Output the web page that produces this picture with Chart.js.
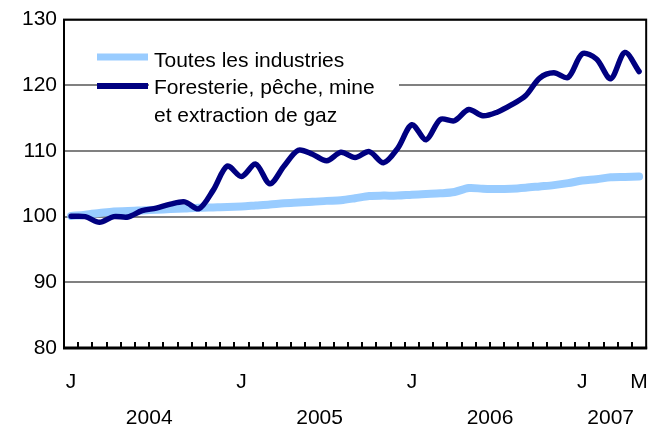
<!DOCTYPE html>
<html>
<head>
    <script src="https://cdn.jsdelivr.net/npm/chart.js@4/dist/chart.umd.min.js"></script>
    <style>
        body { margin: 0; background: #fff; }
    </style>
</head>
<body>
<canvas id="myChart" width="670" height="435"></canvas>
<script>
// Jan 2004 .. May 2007, monthly
var months = ["J","F","M","A","M","J","J","A","S","O","N","D",
              "J","F","M","A","M","J","J","A","S","O","N","D",
              "J","F","M","A","M","J","J","A","S","O","N","D",
              "J","F","M","A","M"];
var tickLabels = {0: "J", 12: "J", 24: "J", 36: "J", 40: "M"};
var years = ["2004", "2005", "2006", "2007"];
var yearStart = [0, 12, 24, 36];
var yearEnd = [11, 23, 35, 40];

var allIndustries = [100.1, 100.3, 100.55, 100.8, 100.85, 100.95, 101.05, 101.15, 101.25, 101.35, 101.4, 101.45,
    101.55, 101.7, 101.85, 102.05, 102.15, 102.25, 102.4, 102.5, 102.8, 103.15, 103.2, 103.2,
    103.35, 103.45, 103.55, 103.75, 104.35, 104.25, 104.2, 104.25, 104.4, 104.6, 104.8, 105.1,
    105.5, 105.7, 106.0, 106.05, 106.1];
var forestry = [100.05, 100.0, 99.15, 100.0, 99.95, 100.9, 101.3, 101.9, 102.25, 101.2, 104.0, 107.7,
    106.1, 108.0, 105.0, 107.7, 110.1, 109.5, 108.5, 109.8, 109.0, 109.9, 108.2, 110.4,
    114.0, 111.7, 114.8, 114.6, 116.3, 115.35, 115.9, 117.0, 118.4, 121.1, 121.9, 121.2,
    124.8, 124.0, 121.0, 125.0, 122.1];

var lightBlue = "#99ccff", navy = "#000080";
var font = "Liberation Sans, Arial, sans-serif";

// border box, tick marks, year labels and the legend
var extras = {
    id: "extras",
    beforeDatasetsDraw: function(chart) {
        var c = chart.ctx, a = chart.chartArea, x = chart.scales.x;
        c.save();
        c.strokeStyle = "#000";
        c.lineWidth = 2;
        c.beginPath();
        for (var i = 1; i < months.length; i++) {
            var px = Math.round(x.getPixelForValue(i - 0.5));
            c.moveTo(px, a.bottom);
            c.lineTo(px, a.bottom - 6);
        }
        c.stroke();
        c.strokeRect(a.left, a.top, a.right - a.left, a.bottom - a.top);
        c.beginPath();
        c.lineWidth = 3;
        c.moveTo(a.left - 1, a.bottom);
        c.lineTo(a.right + 1, a.bottom);
        c.stroke();
        c.fillStyle = "#000";
        c.font = "21px " + font;
        c.textAlign = "center";
        c.textBaseline = "middle";
        for (var j = 0; j < years.length; j++) {
            var cx = x.getPixelForValue((yearStart[j] + yearEnd[j]) / 2);
            c.fillText(years[j], cx, 418);
        }
        c.restore();
    },
    afterDatasetsDraw: function(chart) {
        var c = chart.ctx;
        c.save();
        c.fillStyle = "#fff";
        c.fillRect(149, 46, 250, 82);
        c.lineCap = "butt";
        c.strokeStyle = lightBlue;
        c.lineWidth = 7;
        c.beginPath(); c.moveTo(97, 57); c.lineTo(148, 57); c.stroke();
        c.strokeStyle = navy;
        c.lineWidth = 6;
        c.beginPath(); c.moveTo(97, 86); c.lineTo(148, 86); c.stroke();
        c.fillStyle = "#000";
        c.font = "21px " + font;
        c.textAlign = "left";
        c.textBaseline = "middle";
        c.fillText("Toutes les industries", 154, 61);
        c.fillText("Foresterie, p\u00eache, mine", 154, 88);
        c.fillText("et extraction de gaz", 154, 116);
        c.restore();
    }
};

new Chart(document.getElementById("myChart").getContext("2d"), {
    type: "line",
    data: {
        labels: months,
        datasets: [{
            label: "Toutes les industries",
            data: allIndustries,
            borderColor: lightBlue,
            borderWidth: 8,
            borderCapStyle: "round",
            borderJoinStyle: "round",
            pointRadius: 0,
            tension: .3,
            fill: false,
            order: 2
        }, {
            label: "Foresterie, pêche, mine et extraction de gaz",
            data: forestry,
            borderColor: navy,
            borderWidth: 5.5,
            borderCapStyle: "round",
            borderJoinStyle: "round",
            pointRadius: 0,
            tension: .3,
            fill: false,
            order: 1
        }]
    },
    options: {
        responsive: false,
        animation: false,
        layout: { padding: { top: 18, right: 14, left: 0, bottom: 0 } },
        plugins: {
            legend: { display: false },
            tooltip: { enabled: false }
        },
        scales: {
            x: {
                offset: true,
                grid: { display: false, drawTicks: false },
                border: { display: false },
                afterFit: function(s) { s.height = 87; },
                ticks: {
                    autoSkip: false,
                    maxRotation: 0,
                    padding: 22,
                    color: "#000",
                    font: { family: font, size: 21 },
                    callback: function(v, i) { return tickLabels[i] || ""; }
                }
            },
            y: {
                min: 80,
                max: 130,
                afterFit: function(s) { s.width = 64; },
                grid: { color: "#808080", lineWidth: 2, drawTicks: false },
                border: { display: false },
                ticks: {
                    stepSize: 10,
                    padding: 7,
                    color: "#000",
                    font: { family: font, size: 21 }
                }
            }
        }
    },
    plugins: [extras]
});
</script>
</body>
</html>
